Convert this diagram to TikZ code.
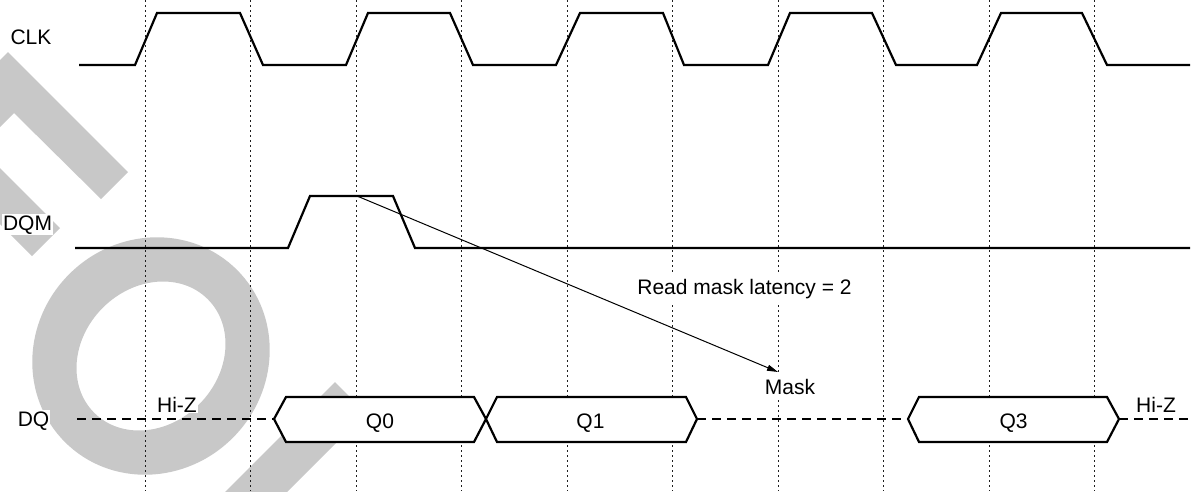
\documentclass[tikz,border=0pt]{standalone}
\usepackage{fontspec}
\setmainfont{Liberation Sans}
\usetikzlibrary{arrows.meta}
\definecolor{wmgray}{RGB}{200,200,200}
\definecolor{gridc}{RGB}{30,30,30}
\tikzset{
  sig/.style={line width=2.2pt, line join=miter},
  gridline/.style={line width=1pt, dash pattern=on 1.5pt off 3.5pt, gridc},
  hiz/.style={line width=2.2pt, dash pattern=on 9pt off 6pt},
  bus/.style={line width=2.2pt, fill=white, line join=miter},
  lbl/.style={font=\fontsize{21}{25}\selectfont, inner sep=1pt, anchor=base, fill=white},
  lblw/.style={lbl, inner sep=6pt},
  arr/.style={line width=1pt, -{Triangle[length=11pt,width=6pt]}},
}
\begin{document}
\begin{tikzpicture}[x=1pt,y=-1pt]
\useasboundingbox (0,0) rectangle (1192,491);
% watermark
\begin{scope}
\clip (0,0) rectangle (1192,491);
\fill[wmgray] (-10,70) -- (8,52) -- (128,172) -- (101,199) -- (14,113) -- (-10,137) -- cycle;
\fill[wmgray] (-10,158) -- (60,228) -- (32,256) -- (-10,214) -- cycle;
\fill[wmgray] (335,382) -- (366,413) -- (280,499) -- (218,499) -- cycle;
\fill[wmgray, even odd rule, shift={(151,356)}, rotate=45]
  (0,0) ellipse [x radius=121.7pt, y radius=115.7pt]
  (0,0) ellipse [x radius=80.3pt, y radius=68.2pt];
\end{scope}
% grid
\foreach \x in {145,250.5,356,461.5,567,672.5,778,883.5,989,1094.5}
  \draw[gridline] (\x,0) -- (\x,491);
% CLK
\draw[sig] (79,65) -- (135,65) -- (157,13) -- (240,13) -- (263,65) -- (346,65) -- (368,13) -- (450,13) -- (473,65) -- (556,65) -- (580,13) -- (663,13) -- (684,65) -- (768,65) -- (790,13) -- (872,13) -- (896,65) -- (977,65) -- (1001,13) -- (1082,13) -- (1107,65) -- (1190,65);
% DQM
\draw[sig] (75,248) -- (288,248) -- (310,196) -- (393,196) -- (415,248) -- (1190,248);
% labels
\node[lbl] (clk) at (31,44) {CLK};
\node[lbl] (dqm) at (27.5,230) {DQM};
\node[lbl] (dq) at (33.5,426) {DQ};
\node[lblw] (lat) at (744.5,294) {Read mask latency = 2};
\node[lblw] (mask) at (790,394) {Mask};
% arrow
\coordinate (mstart) at (357,196);
\coordinate (mend) at (778,372);
\draw[arr] (mstart) -- (mend);
% DQ
\draw[hiz] (77,419) -- (274,419);
\draw[hiz] (697,419) -- (908,419);
\draw[hiz] (1119,419) -- (1192,419);
\draw[bus] (274,419) -- (286,397) -- (474,397) -- (486,419) -- (474,442) -- (286,442) -- cycle;
\draw[bus] (486,419) -- (497,397) -- (686,397) -- (697,419) -- (686,442) -- (497,442) -- cycle;
\draw[bus] (908,419) -- (919,397) -- (1107,397) -- (1119,419) -- (1107,442) -- (919,442) -- cycle;
\node[lbl, fill=none] (q0) at (380,428) {Q0};
\node[lbl, fill=none] (q1) at (590.5,428) {Q1};
\node[lbl, fill=none] (q3) at (1013.5,428) {Q3};
\node[lbl] (hiz1) at (177,412) {Hi-Z};
\node[lbl] (hiz2) at (1156,412) {Hi-Z};
\end{tikzpicture}
\end{document}
